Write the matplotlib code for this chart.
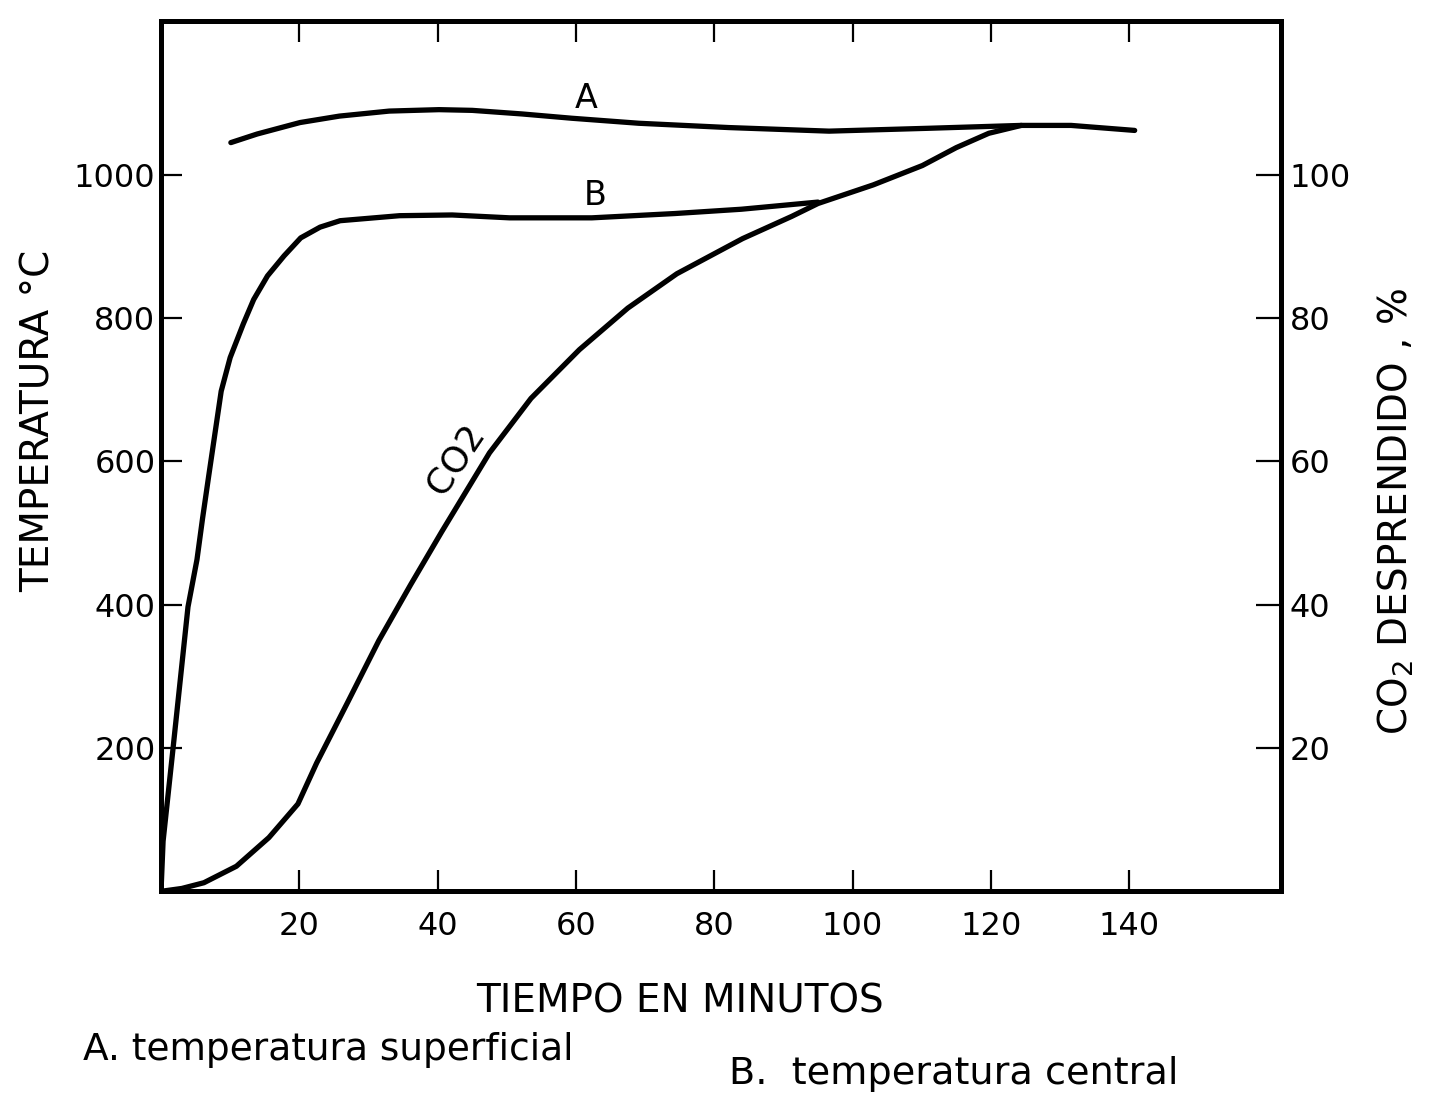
import matplotlib
matplotlib.use('Agg')
import matplotlib.pyplot as plt

# ---- data ----
time_A = [10.1, 13.9, 20.1, 25.8, 33.0, 40.2, 45.0, 52.2, 59.4, 69.1, 82.1, 96.6, 111.0, 124.4, 131.6, 140.8]
temp_A = [1045, 1057, 1073, 1082, 1089, 1091, 1090, 1085, 1079, 1072, 1066, 1061, 1065, 1069, 1069, 1062]

time_B = [0, 0.3, 1.7, 3.9, 5.2, 6.0, 6.9, 8.7, 10.0, 11.9, 13.4, 15.4, 17.8, 20.2, 23.0, 25.9,
          34.5, 42.1, 50.4, 62.3, 74.3, 83.9, 95.0]
temp_B = [0, 70, 196, 397, 463, 520, 580, 698, 745, 792, 826, 859, 887, 912, 927, 936,
          943, 944, 940, 940, 946, 952, 962]

time_CO2 = [0, 3.0, 6.2, 10.9, 15.6, 19.8, 22.5, 27.0, 31.5, 36.1, 40.6, 47.5, 53.5, 60.5, 67.5,
            74.6, 84.1, 91.2, 95.0, 103.0, 110.1, 115.0, 119.7, 124.4]
pct_CO2 = [0, 0.4, 1.2, 3.5, 7.5, 12.2, 17.9, 26.4, 35.0, 42.8, 50.2, 61.2, 68.8, 75.6, 81.4,
           86.2, 91.1, 94.2, 96.0, 98.6, 101.3, 103.8, 105.8, 106.9]

x_ticks = [20, 40, 60, 80, 100, 120, 140]
temp_ticks = [200, 400, 600, 800, 1000]
co2_ticks = [20, 40, 60, 80, 100]

plt.rcParams['font.family'] = ['DejaVu Sans']

fig = plt.figure(figsize=(14.3, 10.95), dpi=100)
ax = fig.add_axes([0.1126, 0.186, 0.7834, 0.795])

line_kw = dict(color='black', lw=3.8, solid_capstyle='round', solid_joinstyle='round')
ax.plot(time_A, temp_A, **line_kw)
ax.plot(time_B, temp_B, **line_kw)

ax.set_xlim(0, 162)
ax.set_ylim(0, 1215)
ax.set_xticks(x_ticks)
ax.set_xticklabels([str(v) for v in x_ticks])
ax.set_yticks(temp_ticks)
ax.set_yticklabels([str(v) for v in temp_ticks])
ax.tick_params(axis='both', direction='in', length=15, width=1.6, labelsize=23, colors='black')
ax.tick_params(axis='x', top=True, pad=14)
ax.tick_params(axis='y', pad=4)
for s in ax.spines.values():
    s.set_linewidth(3.6)

ax2 = ax.twinx()
ax2.plot(time_CO2, pct_CO2, **line_kw)
ax2.set_ylim(0, 121.5)
ax2.set_yticks(co2_ticks)
ax2.set_yticklabels([str(v) for v in co2_ticks])
ax2.tick_params(axis='y', direction='in', length=18, width=1.6, labelsize=23, pad=6)
for s in ax2.spines.values():
    s.set_linewidth(3.6)

# curve labels
ax.text(61.5, 1106, 'A', fontsize=24, ha='center', va='center')
ax.text(62.8, 971, 'B', fontsize=24, ha='center', va='center')
ax.text(42.6, 603, 'CO2', fontsize=26, ha='center', va='center', rotation=56)

# axis labels
ax.set_ylabel('TEMPERATURA °C', fontsize=28)
ax.yaxis.set_label_coords(-0.092, 0.54)
ax2.set_ylabel('CO$_2$ DESPRENDIDO , %', fontsize=28, rotation=90)
ax2.yaxis.set_label_coords(1.084, 0.436)
ax.set_xlabel('TIEMPO EN MINUTOS', fontsize=28)
ax.xaxis.set_label_coords(0.463, -0.105)

fig.text(0.058, 0.041, 'A. temperatura superficial', fontsize=27, ha='left', va='center')
fig.text(0.51, 0.019, 'B.  temperatura central', fontsize=27.5, ha='left', va='center')

fig.savefig('out.png', dpi=100)
